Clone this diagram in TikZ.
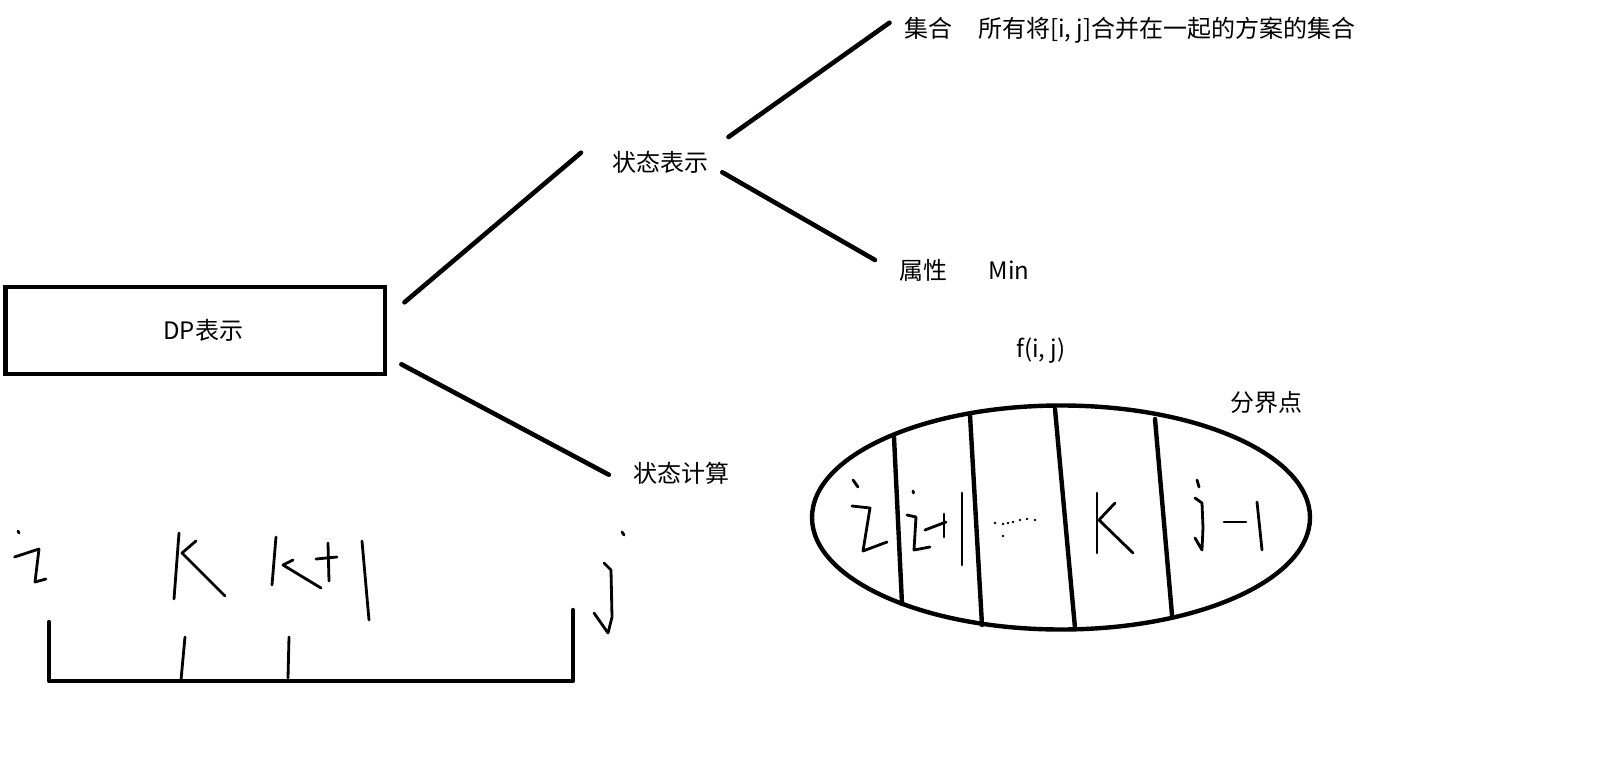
\documentclass[tikz,border=0pt]{standalone}
\usepackage{fontspec}
\setmainfont{Noto Sans CJK SC}
\begin{document}
\begin{tikzpicture}[x=1pt,y=-1pt,
  lbl/.style={inner sep=0pt, font=\fontsize{24}{28}\selectfont},
  conn/.style={line width=4.6pt, line cap=round},
  hand/.style={line width=2.8pt, line cap=round, line join=round},
  bold/.style={line width=4.4pt, line cap=round, line join=round},
  boxstyle/.style={draw, line width=4.2pt, minimum width=379.5pt, minimum height=87pt, inner sep=0pt, font=\fontsize{24}{28}\selectfont}]
\useasboundingbox (0,0) rectangle (1618,768);
\fill[white] (0,0) rectangle (1618,768);

% tree
\node[boxstyle] (dp) at (195.25,330.5) {\hspace*{16pt}DP表示};
\node[lbl] (state) at (660,162) {状态表示};
\node[lbl] (set) at (928,28) {集合};
\node[lbl, anchor=west] (setdesc) at (978,30) {所有将[i, j]合并在一起的方案的集合};
\node[lbl] (attr) at (923,270) {属性};
\node[lbl] (minv) at (1009,270) {Min};
\node[lbl] (calc) at (681,473) {状态计算};

\coordinate (dpTop) at (404.5,302.3);
\coordinate (stateL) at (581,152.7);
\coordinate (stateUR) at (728.5,137);
\coordinate (setL) at (889.5,22.7);
\coordinate (stateLR) at (722.3,172.3);
\coordinate (attrL) at (875,260);
\coordinate (dpBot) at (401.4,364.3);
\coordinate (calcL) at (608.8,474.7);
\draw[conn] (dpTop) -- (stateL);
\draw[conn] (stateUR) -- (setL);
\draw[conn] (stateLR) -- (attrL);
\draw[conn] (dpBot) -- (calcL);

% ellipse diagram
\node[lbl] (fij) at (1041,351) {f(i, j)};
\node[lbl] (split) at (1266,402) {分界点};
\draw[line width=4.4pt] (1061,517.5) ellipse [x radius=249, y radius=112];
\draw[bold] (894,437) -- (902,604);
\draw[bold] (970,415) -- (982,625);
\draw[bold] (1055,409) -- (1075,628);
\draw[bold] (1155,419) -- (1172,615);
% i
\draw[hand] (853,480) -- (858,487);
\draw[hand] (852,506) -- (870,508) -- (863,551) -- (887,542);
% i+1
\draw[hand] (913,491) -- (913.5,493);
\draw[hand] (907,515) -- (916,517) -- (914,550) -- (930,547);
\draw[hand] (925,530) -- (946,522);
\draw[hand] (944,514) -- (944,537);
\draw[hand] (962,493) -- (962,565);
% dots
\foreach \p in {(995,523),(1003,524),(1008,523),(1013,522),(1020,520),(1027,519),(1035,520),(1003,536)}
  \fill \p circle (1.3);
% K
\draw[hand] (1097,493) -- (1097,553);
\draw[hand] (1115,503) -- (1099,520) -- (1133,553);
% j-1
\draw[hand] (1197,480) -- (1199,487);
\draw[hand] (1195,498) -- (1202,503) -- (1203,528) -- (1202,550) -- (1195,538);
\draw[hand] (1224,522) -- (1246,522);
\draw[hand] (1257,502) -- (1262,550);

% bracket diagram
\draw[bold] (49,622) -- (49,681) -- (573,681) -- (573,610);
\draw[hand] (185,637) -- (181,680);
\draw[hand] (289,637) -- (288,678);
% i
\draw[hand] (18,531) -- (19,533);
\draw[hand] (14.5,557) -- (39,549) -- (35,582) -- (46,579);
% K
\draw[hand] (179,533) -- (174,599);
\draw[hand] (196,541) -- (182,553) -- (225,596);
% k+1
\draw[hand] (276,537) -- (272,585);
\draw[hand] (293,560) -- (283,565) -- (321,588);
\draw[hand] (328,543) -- (329,581);
\draw[hand] (316,559) -- (337,557);
\draw[hand] (362,541) -- (369,620);
% j
\draw[hand] (622,532) -- (624,535);
\draw[hand] (604,563) -- (611,570) -- (612,617) -- (608,633) -- (594,613);
\end{tikzpicture}
\end{document}
